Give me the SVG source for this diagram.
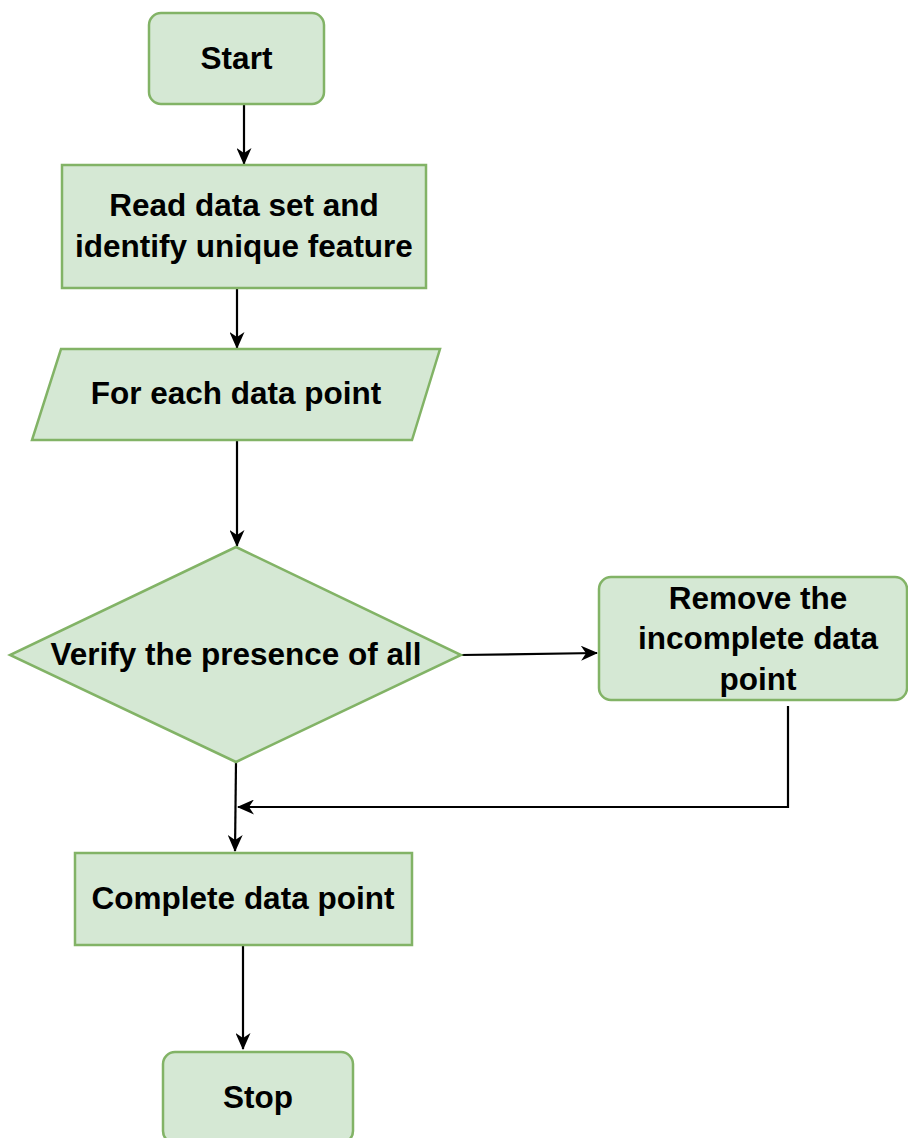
<svg xmlns="http://www.w3.org/2000/svg" width="908" height="1138" viewBox="0 0 908 1138">
<defs>
<style>
.n{fill:#d5e8d4;stroke:#82b366;stroke-width:2.5}
.t{font-family:"Liberation Sans",Arial,sans-serif;font-weight:bold;font-size:31.5px;fill:#000;text-anchor:middle}
.c{fill:none;stroke:#000;stroke-width:2.2}
</style>
<marker id="a" viewBox="0 0 17 15" refX="16" refY="7.5" markerWidth="17" markerHeight="15" markerUnits="userSpaceOnUse" orient="auto">
<path d="M0,0 L17,7.5 L0,15 L5,7.5 Z" fill="#000"/>
</marker>
</defs>
<rect width="908" height="1138" fill="#fff"/>
<g id="connectors">
<line class="c" x1="244" y1="105" x2="244" y2="164" marker-end="url(#a)"/>
<line class="c" x1="237" y1="289" x2="237" y2="348" marker-end="url(#a)"/>
<line class="c" x1="237" y1="441" x2="237" y2="546" marker-end="url(#a)"/>
<line class="c" x1="461" y1="655" x2="597" y2="653" marker-end="url(#a)"/>
<polyline class="c" points="788,706 788,807 238,807" marker-end="url(#a)"/>
<line class="c" x1="236" y1="762" x2="235" y2="851" marker-end="url(#a)"/>
<line class="c" x1="243" y1="946" x2="243" y2="1049" marker-end="url(#a)"/>
</g>
<g id="start">
<rect class="n" x="149" y="13" width="175" height="91" rx="12"/>
<text class="t" x="236.5" y="69">Start</text>
</g>
<g id="read">
<rect class="n" x="62" y="165" width="364" height="123"/>
<text class="t" x="244" y="216">Read data set and</text>
<text class="t" x="244" y="257">identify unique feature</text>
</g>
<g id="foreach">
<polygon class="n" points="61,349 440,349 412,440 32,440"/>
<text class="t" x="236" y="404">For each data point</text>
</g>
<g id="verify">
<polygon class="n" points="236,547 461,655 236,762 10,655"/>
<text class="t" x="236" y="665">Verify the presence of all</text>
</g>
<g id="remove">
<rect class="n" x="599" y="577" width="308" height="123" rx="12"/>
<text class="t" x="758" y="609">Remove the</text>
<text class="t" x="758" y="649">incomplete data</text>
<text class="t" x="758" y="690">point</text>
</g>
<g id="complete">
<rect class="n" x="75" y="853" width="337" height="92"/>
<text class="t" x="243" y="909">Complete data point</text>
</g>
<g id="stop">
<rect class="n" x="163" y="1052" width="190" height="91" rx="12"/>
<text class="t" x="258" y="1108">Stop</text>
</g>
</svg>
